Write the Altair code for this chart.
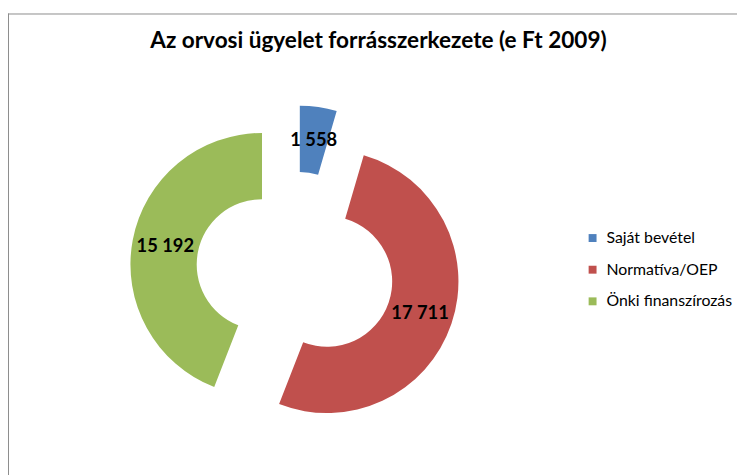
import altair as alt
import pandas as pd

# ---- data ----
categories = ["Saját bevétel", "Normatíva/OEP", "Önki finanszírozás"]
values = [1558, 17711, 15192]
labels = ["1 558", "17 711", "15 192"]
colors = ["#4F81BD", "#C0504D", "#9BBB59"]
title_text = "Az orvosi ügyelet forrásszerkezete (e Ft 2009)"

df = pd.DataFrame({"cat": categories, "val": values, "label": labels, "idx": list(range(len(categories)))})

# ---- geometry (style) ----
CX, CY = 290.2, 260.0
EXPLODE = 34
R_OUT, R_IN = 133, 66
R_LAB = (R_OUT + R_IN) / 2
FONT = "Lato"

base = (
    alt.Chart(df)
    .transform_window(cum="sum(val)", sort=[alt.SortField("idx")])
    .transform_joinaggregate(total="sum(val)")
    .transform_calculate(a1="datum.cum / datum.total * 2 * PI")
    .transform_calculate(a0="(datum.cum - datum.val) / datum.total * 2 * PI")
    .transform_calculate(mid="(datum.a0 + datum.a1) / 2")
    .transform_calculate(px=f"{CX} + {EXPLODE} * sin(datum.mid)")
    .transform_calculate(py=f"{CY} - {EXPLODE} * cos(datum.mid)")
    .transform_calculate(lx=f"{CX} + {EXPLODE + R_LAB} * sin(datum.mid)")
    .transform_calculate(ly=f"{CY} - {EXPLODE + R_LAB} * cos(datum.mid)")
)

arcs = base.mark_arc(outerRadius=R_OUT, innerRadius=R_IN).encode(
    theta=alt.Theta("a0:Q", scale=None, stack=None),
    theta2="a1:Q",
    x=alt.X("px:Q", scale=None, axis=None),
    y=alt.Y("py:Q", scale=None, axis=None),
    color=alt.Color(
        "cat:N",
        scale=alt.Scale(domain=categories, range=colors),
        legend=alt.Legend(
            title=None,
            orient="none",
            legendX=583,
            legendY=219,
            symbolType="square",
            symbolSize=64,
            symbolStrokeWidth=0,
            labelFont=FONT,
            labelFontSize=16,
            labelColor="black",
            labelOffset=6,
            rowPadding=16,
        ),
    ),
)

texts = base.mark_text(font=FONT, fontSize=18.5, fontWeight="bold", color="black").encode(
    x=alt.X("lx:Q", scale=None, axis=None),
    y=alt.Y("ly:Q", scale=None, axis=None),
    text="label:N",
)

frame_df = pd.DataFrame({"k": [0]})
left_line = alt.Chart(frame_df).mark_rule(color="#8c8c8c", strokeWidth=1).encode(
    x=alt.value(0.5), y=alt.value(0), y2=alt.value(470)
)
top_line = alt.Chart(frame_df).mark_rule(color="#8c8c8c", strokeWidth=1).encode(
    x=alt.value(0), x2=alt.value(740), y=alt.value(0.5)
)

chart = (
    alt.layer(left_line, top_line, arcs, texts)
    .properties(
        width=737,
        height=464,
        padding={"left": 0, "top": 3, "right": 0, "bottom": 0},
        autosize=alt.AutoSizeParams(type="none"),
        title=alt.Title(
            title_text,
            font=FONT,
            fontSize=22.8,
            fontWeight="bold",
            color="black",
            anchor="middle",
            baseline="alphabetic",
            dx=6,
            dy=62,
        ),
    )
    .configure_view(stroke=None)
)

chart.save("out.html", embed_options={"renderer": "svg", "actions": False})
